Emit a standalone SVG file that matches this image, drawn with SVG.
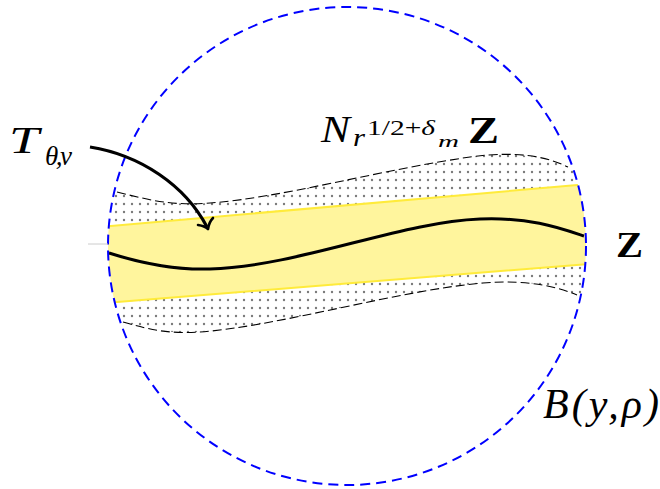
<svg xmlns="http://www.w3.org/2000/svg" width="660" height="489" viewBox="0 0 660 489">
<style>
.it{font-family:"Liberation Serif",serif;font-style:italic;fill:#000}
.bd{font-family:"Liberation Serif",serif;font-weight:bold;fill:#000}
.up{font-family:"Liberation Serif",serif;fill:#000}
</style>
<defs>
<pattern id="dots" width="8" height="8" patternUnits="userSpaceOnUse">
<circle cx="4" cy="4" r="1.2" fill="#7a7a7a"/>
</pattern>
<clipPath id="ball"><circle cx="347" cy="246" r="239"/></clipPath>
</defs>
<g id="nbhd" clip-path="url(#ball)">
<path d="M110,192 C150,200 170,206 210,203 C280,198 380,170 470,157 C520,150 550,158 575,170 L585,300 L577,295 C560,288 530,279 483,283 C400,290 280,326 200,332 C170,334 150,330 118,320 Z" fill="url(#dots)"/>
</g>
<g id="tube" clip-path="url(#ball)">
<path d="M100,226.9 L600,183 L600,263 L100,303.3 Z" fill="#fff59d"/>
<path d="M100,226.9 L600,183 M100,303.3 L600,263" stroke="#ffeb3b" stroke-width="2" fill="none"/>
</g>
<g id="boundaries" fill="none" stroke="#000" stroke-width="1.1" stroke-dasharray="9,4">
<path d="M117,192 C150,200 170,206 210,203 C280,198 380,170 470,157 C520,150 550,158 568,167"/>
<path d="M123,322 C150,330 170,334 200,332 C280,326 400,290 483,283 C530,279 560,288 577,295"/>
</g>
<g id="curveZ">
<path d="M109,253 C150,266 180,270 210,269 C300,266 400,222 480,219 C530,217 560,228 584,236" fill="none" stroke="#000" stroke-width="3"/>
</g>
<g id="ball-outline">
<circle cx="347" cy="246" r="239" fill="none" stroke="#0000ff" stroke-width="2" stroke-dasharray="10,6"/>
</g>
<line x1="88" y1="244" x2="108" y2="244" stroke="#cccccc" stroke-width="1"/>
<g id="connectors">
<path d="M90,147 C140,155 185,185 207,227" fill="none" stroke="#000" stroke-width="3.2"/>
<path d="M198,225 Q205,226 208,229 Q209,222 213,218" fill="none" stroke="#000" stroke-width="2.6" stroke-linecap="round" stroke-linejoin="round"/>
</g>
<g id="label-T">
<text class="it" x="9" y="153" font-size="38" textLength="30" lengthAdjust="spacingAndGlyphs">T</text>
<text class="it" x="45" y="165" font-size="27" textLength="27" lengthAdjust="spacing">θ,v</text>
</g>
<g id="label-N">
<text class="it" x="321" y="142" font-size="38" textLength="29" lengthAdjust="spacingAndGlyphs">N</text>
<text class="it" x="353" y="146" font-size="25" textLength="12" lengthAdjust="spacingAndGlyphs">r</text>
<text class="up" x="367" y="135" font-size="21" textLength="68" lengthAdjust="spacingAndGlyphs">1/2+<tspan font-style="italic">δ</tspan></text>
<text class="it" x="438" y="147" font-size="17" textLength="21" lengthAdjust="spacingAndGlyphs">m</text>
<text class="bd" x="468" y="143" font-size="38" textLength="31" lengthAdjust="spacingAndGlyphs">Z</text>
</g>
<g id="label-Z">
<text class="bd" x="616" y="257" font-size="36" textLength="27" lengthAdjust="spacingAndGlyphs">Z</text>
</g>
<g id="label-B">
<text class="it" x="543" y="418" font-size="42" textLength="116" lengthAdjust="spacing">B(y,ρ)</text>
</g>
</svg>
